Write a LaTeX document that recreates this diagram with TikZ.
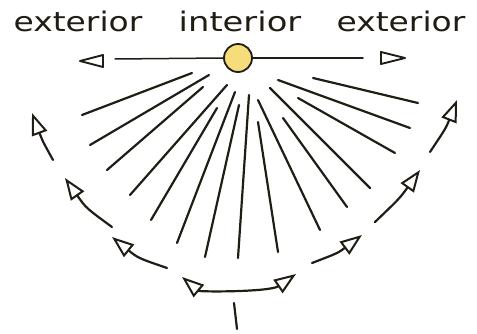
\documentclass[tikz,border=0pt]{standalone}
\usepackage{fontspec}
\setmainfont{DejaVu Sans}
\usetikzlibrary{arrows.meta}
\definecolor{ink}{HTML}{1F1D14}
\definecolor{sun}{HTML}{F6DC7A}
\tikzset{opentip/.tip={Triangle[open, length=22pt, width=16pt, line width=2pt]}}
\begin{document}
\begin{tikzpicture}[x=1pt,y=-1pt,
  inkline/.style={draw=ink, line width=2.2pt, line cap=round, line join=round},
  ray/.style={inkline},
  sweep/.style={inkline, -opentip},
  headtri/.style={inkline, line width=1.9pt},
  word/.style={font=\fontsize{27}{30}\selectfont, text=ink, inner sep=0pt, anchor=base}]
\useasboundingbox (0,0) rectangle (477,334);
% labels
\node[word] (t1) at (78,32) {\scalebox{1.22}[1]{exterior}};
\node[word] (t2) at (240,32) {\scalebox{1.25}[1]{interior}};
\node[word] (t3) at (401,32) {\scalebox{1.22}[1]{exterior}};
% axis with sun
\node[circle, draw=ink, line width=1.8pt, fill=sun, minimum size=28pt, inner sep=0pt] (sun) at (238,58) {};
\coordinate (hl) at (115,59);
\coordinate (hr) at (363,58);
\draw[inkline, line width=1.5pt] (sun.west) -- (hl);
\draw[inkline, line width=1.5pt] (sun.east) -- (hr);
\draw[headtri] (80,61) -- (103,55) -- (103,67) -- cycle;
\draw[headtri] (405,58) -- (381,52) -- (381,64) -- cycle;
% rays
\foreach \a/\b/\c/\d in {192/73/82/115, 209/75/90/145, 203/87/107/170, 227/85/130/195,
  217/108/151/220, 235/92/177/243, 239/105/205/257, 249/95/238/258,
  258/122/278/252, 258/100/320/230, 270/88/370/188, 283/118/347/207,
  278/80/410/128, 298/98/395/153, 313/78/418/103}
  \draw[ray] (\a,\b) -- (\c,\d);
% sweeping arrows, left
\coordinate (a1s) at (53,160); \coordinate (a1e) at (32,113);
\coordinate (a2s) at (112,227); \coordinate (a2e) at (65,178);
\coordinate (a3s) at (167,268); \coordinate (a3e) at (112,237);
\draw[sweep] (a1s) .. controls (42,140) .. (a1e);
\draw[sweep] (a2s) .. controls (86,208) .. (a2e);
\draw[sweep] (a3s) .. controls (138,258) .. (a3e);
% sweeping arrows, right
\coordinate (b1s) at (312,263); \coordinate (b1e) at (362,235);
\coordinate (b2s) at (375,222); \coordinate (b2e) at (420,170);
\coordinate (b3s) at (430,152); \coordinate (b3e) at (457,100);
\draw[sweep] (b1s) .. controls (338,253) .. (b1e);
\draw[sweep] (b2s) .. controls (400,198) .. (b2e);
\draw[sweep] (b3s) .. controls (446,128) .. (b3e);
% bottom double arrow
\coordinate (cl) at (182,277); \coordinate (cr) at (296,274);
\draw[inkline, opentip-opentip] (cl) .. controls (200,292) and (270,292) .. (cr);
% stem
\coordinate (s1) at (234,303); \coordinate (s2) at (237,329);
\draw[inkline] (s1) -- (s2);
\end{tikzpicture}
\end{document}
